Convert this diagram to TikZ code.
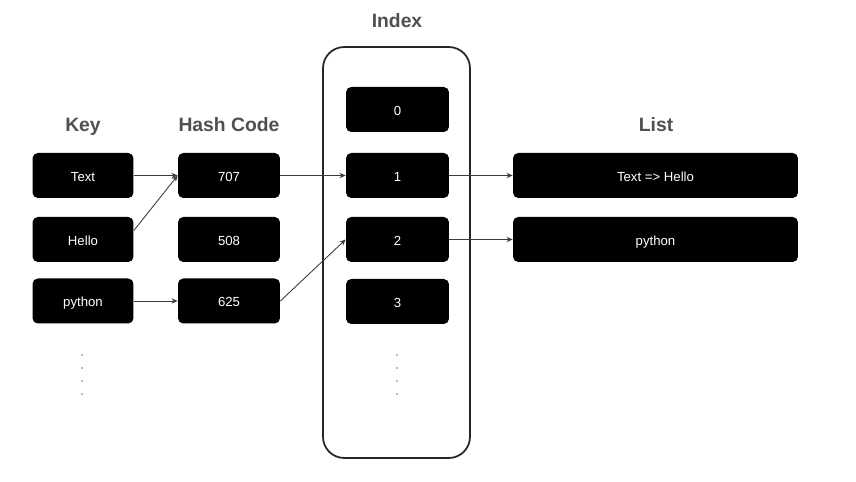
\documentclass[tikz,border=0pt]{standalone}
\usepackage{fontspec}
\setmainfont{Liberation Sans}
\usetikzlibrary{arrows.meta}
\definecolor{titlegray}{HTML}{505050}
\definecolor{linegray}{HTML}{3C3C3C}
\tikzset{
    cell/.style={fill=black, text=white, rounded corners=3pt, minimum height=0.9cm,
                 inner sep=0pt, text height=1.5ex, text depth=0.3ex,
                 font=\fontsize{7.5}{9}\selectfont},
    title/.style={text=titlegray, anchor=base, font=\bfseries\fontsize{11}{13}\selectfont},
    link/.style={draw=linegray, line width=0.5pt, -{Stealth[length=3.5pt,width=3pt]}},
    dotmark/.style={circle, fill=gray!70, inner sep=0pt, minimum size=1.3pt}
}
\begin{document}
\begin{tikzpicture}[x=0.02cm,y=-0.02cm]
        \useasboundingbox (0,0) rectangle (856,482);
        % container of the index column
        \node [draw=black!85, line width=1pt, rounded corners=12pt, minimum width=2.94cm,
               minimum height=8.22cm] (box) at (396.5,252.5) {};
        % column titles
        \node [title] (tkey) at (83,132) {Key};
        \node [title] (thash) at (229,132) {Hash Code};
        \node [title] (tindex) at (397,28) {Index};
        \node [title] (tlist) at (656,132) {List};
        % keys
        \node [cell, minimum width=2.02cm] (k1) at (83,175.5) {Text};
        \node [cell, minimum width=2.02cm] (k2) at (83,239.5) {Hello};
        \node [cell, minimum width=2.02cm] (k3) at (83,301) {python};
        % hash codes
        \node [cell, minimum width=2.04cm] (h1) at (229,175.5) {707};
        \node [cell, minimum width=2.04cm] (h2) at (229,239.5) {508};
        \node [cell, minimum width=2.04cm] (h3) at (229,301) {625};
        % index slots
        \foreach \i/\y in {0/109.5,1/175.5,2/239.5,3/301.5}
            \node [cell, minimum width=2.06cm] (i\i) at (397.5,\y) {\i};
        % lists
        \node [cell, minimum width=5.7cm] (l1) at (655.5,175.5) {Text => Hello};
        \node [cell, minimum width=5.7cm] (l2) at (655.5,239.5) {python};
        % dots
        \foreach \y [count=\n] in {355,368,381,394} {
            \node [dotmark] (kd\n) at (82,\y) {};
            \node [dotmark] (id\n) at (397,\y) {};
        }
        % connectors
        \draw [link] (k1.east) -- (h1.west);
        \draw [link] (k2.10) -- (h1.west);
        \draw [link] (k3.east) -- (h3.west);
        \draw [link] (h1.east) -- (i1.west);
        \draw [link] (h3.east) -- (i2.west);
        \draw [link] (i1.east) -- (l1.west);
        \draw [link] (i2.east) -- (l2.west);
\end{tikzpicture}
\end{document}
